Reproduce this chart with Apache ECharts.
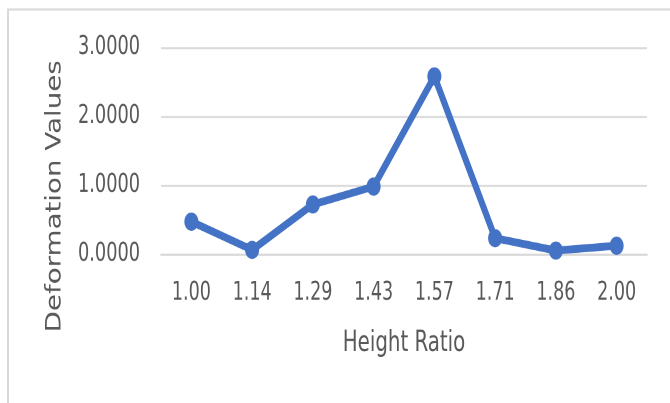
<!DOCTYPE html>
<html>
<head>
<meta charset="utf-8">
<script src="https://cdn.jsdelivr.net/npm/echarts@6/dist/echarts.min.js"></script>
<style>
  html, body { margin: 0; padding: 0; background: #fff; width: 670px; height: 403px; }
  /* chart is laid out at a shorter height and stretched vertically to 403px */
  #chart { width: 670px; height: 310px; transform: scaleY(1.3); transform-origin: 0 0; }
</style>
</head>
<body>
<div id="chart"></div>
<script>
// Height ratio categories and the deformation measured at each
const heightRatios = ['1.00', '1.14', '1.29', '1.43', '1.57', '1.71', '1.86', '2.00'];
const deformation = [0.47, 0.06, 0.72, 0.98, 2.58, 0.23, 0.05, 0.12];
const yTicks = [0, 1, 2, 3];

const condensed = '"DejaVu Sans Condensed", "Liberation Sans Narrow", sans-serif';
const textGray = '#595959';
const gridGray = '#d9d9d9';
const blue = '#4472C4';

const chart = echarts.init(document.getElementById('chart'), null, { renderer: 'canvas', devicePixelRatio: 2 });

chart.setOption({
  animation: false,
  backgroundColor: '#fff',
  grid: { left: 161, right: 23, top: 36.5, bottom: 114.6, containLabel: false },
  xAxis: {
    type: 'category',
    data: heightRatios,
    boundaryGap: true,
    name: 'Height Ratio',
    nameLocation: 'middle',
    nameGap: 58,
    nameTextStyle: { fontFamily: condensed, fontSize: 22, color: textGray },
    axisLine: { show: true, lineStyle: { color: gridGray, width: 1.6 } },
    axisTick: { show: false },
    axisLabel: { interval: 0, fontFamily: condensed, fontSize: 19.5, color: textGray, margin: 20 }
  },
  yAxis: {
    type: 'value',
    min: yTicks[0],
    max: yTicks[yTicks.length - 1],
    interval: 1,
    axisLine: { show: false },
    axisTick: { show: false },
    splitLine: { lineStyle: { color: gridGray, width: 1.6 } },
    axisLabel: {
      fontFamily: condensed, fontSize: 19.7, color: textGray, margin: 21,
      formatter: v => v.toFixed(4)
    }
  },
  graphic: [
    // light frame along the top and left edges
    { type: 'line', shape: { x1: 7, y1: 7.3, x2: 670, y2: 7.3 }, style: { stroke: gridGray, lineWidth: 1.6 } },
    { type: 'line', shape: { x1: 8, y1: 7, x2: 8, y2: 310 }, style: { stroke: gridGray, lineWidth: 2 } },
    // vertical axis title
    {
      type: 'text',
      x: 55, y: 151,
      rotation: Math.PI / 2,
      style: {
        text: 'Deformation Values',
        fontFamily: '"DejaVu Sans", sans-serif',
        fontSize: 21.3,
        fill: textGray,
        align: 'center',
        verticalAlign: 'middle'
      }
    }
  ],
  series: [{
    type: 'line',
    data: deformation,
    symbol: 'circle',
    symbolSize: 14,
    lineStyle: { color: blue, width: 6 },
    itemStyle: { color: blue },
    z: 5
  }]
});
</script>
</body>
</html>
